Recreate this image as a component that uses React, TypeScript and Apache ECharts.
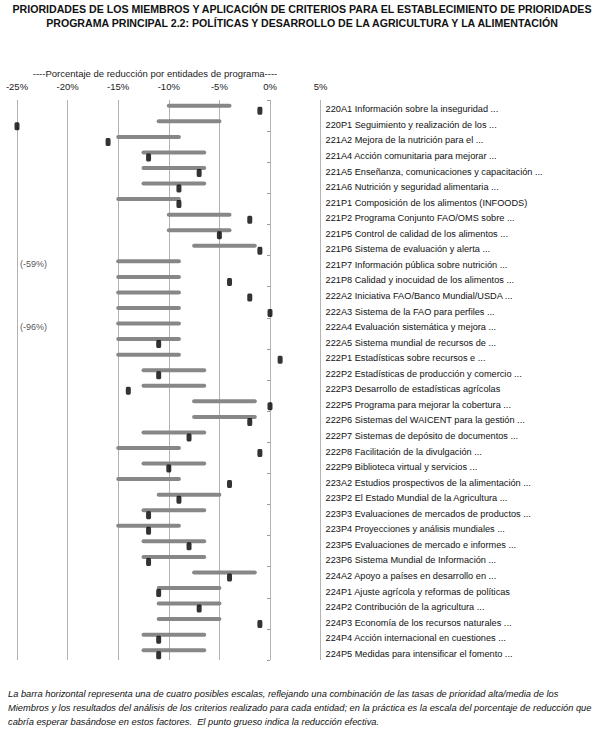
import React, { useEffect, useRef } from "react";
import * as echarts from "echarts";

const categories = [
  "220A1 Información sobre la inseguridad ...",
  "220P1 Seguimiento y realización de los ...",
  "221A2 Mejora de la nutrición para el ...",
  "221A4 Acción comunitaria para mejorar ...",
  "221A5 Enseñanza, comunicaciones y capacitación ...",
  "221A6 Nutrición y seguridad alimentaria ...",
  "221P1 Composición de los alimentos (INFOODS)",
  "221P2 Programa Conjunto FAO/OMS sobre ...",
  "221P5 Control de calidad de los alimentos ...",
  "221P6 Sistema de evaluación y alerta ...",
  "221P7 Información pública sobre nutrición ...",
  "221P8 Calidad y inocuidad de los alimentos ...",
  "222A2 Iniciativa FAO/Banco Mundial/USDA ...",
  "222A3 Sistema de la FAO para perfiles ...",
  "222A4 Evaluación sistemática y mejora ...",
  "222A5 Sistema mundial de recursos de ...",
  "222P1 Estadísticas sobre recursos e ...",
  "222P2 Estadísticas de producción y comercio ...",
  "222P3 Desarrollo de estadísticas agrícolas",
  "222P5 Programa para mejorar la cobertura ...",
  "222P6 Sistemas del WAICENT para la gestión ...",
  "222P7 Sistemas de depósito de documentos ...",
  "222P8 Facilitación de la divulgación ...",
  "222P9 Biblioteca virtual y servicios ...",
  "223A2 Estudios prospectivos de la alimentación ...",
  "223P2 El Estado Mundial de la Agricultura ...",
  "223P3 Evaluaciones de mercados de productos ...",
  "223P4 Proyecciones y análisis mundiales ...",
  "223P5 Evaluaciones de mercado e informes ...",
  "223P6 Sistema Mundial de Información ...",
  "224A2 Apoyo a países en desarrollo en ...",
  "224P1 Ajuste agrícola y reformas de políticas",
  "224P2 Contribución de la agricultura ...",
  "224P3 Economía de los recursos naturales ...",
  "224P4 Acción internacional en cuestiones ...",
  "224P5 Medidas para intensificar el fomento ...",
];

// expected reduction range (low / high), %
const rangeLow = [
  -10, -11, -15, -12.5, -12.5, -12.5, -15, -10, -10, -7.5,
  -15, -15, -15, -15, -15, -15, -15, -12.5, -12.5, -7.5,
  -7.5, -12.5, -15, -12.5, -15, -11, -12.5, -15, -12.5, -12.5,
  -7.5, -11, -11, -11, -12.5, -12.5,
];
const rangeHigh = [
  -4, -5, -9, -6.5, -6.5, -6.5, -9, -4, -4, -1.5,
  -9, -9, -9, -9, -9, -9, -9, -6.5, -6.5, -1.5,
  -1.5, -6.5, -9, -6.5, -9, -5, -6.5, -9, -6.5, -6.5,
  -1.5, -5, -5, -5, -6.5, -6.5,
];
// actual reduction, %
const actualReduction = [
  -1, -25, -16, -12, -7, -9, -9, -2, -5, -1,
  -59, -4, -2, 0, -96, -11, 1, -11, -14, 0,
  -2, -8, -1, -10, -4, -9, -12, -12, -8, -12,
  -4, -11, -7, -1, -11, -11,
];

const xTicks = { min: -25, max: 5, interval: 5 };

const titleLines = [
  "PRIORIDADES DE LOS MIEMBROS Y APLICACIÓN DE CRITERIOS PARA EL ESTABLECIMIENTO DE PRIORIDADES",
  "PROGRAMA PRINCIPAL 2.2: POLÍTICAS Y DESARROLLO DE LA AGRICULTURA Y LA ALIMENTACIÓN",
];
const axisTitle = "----Porcentaje de reducción por entidades de programa----";
const noteLines = [
  "La barra horizontal representa una de cuatro posibles escalas, reflejando una combinación de las tasas de prioridad alta/media de los",
  "Miembros y los resultados del análisis de los criterios realizado para cada entidad; en la práctica es la escala del porcentaje de reducción que",
  "cabría esperar basándose en estos factores.  El punto grueso indica la reducción efectiva.",
];

const FONT = "'Liberation Sans', Arial, sans-serif";

export default function App() {
  const ref = useRef<HTMLDivElement>(null);
  useEffect(() => {
    if (!ref.current) return;
    const chart = echarts.init(ref.current, undefined, { renderer: "svg" });
    const idx = categories.map((_, i) => i);
    const barData = idx.map((i) => [i, rangeLow[i], rangeHigh[i]]);
    const dotData = idx
      .filter((i) => actualReduction[i] >= xTicks.min)
      .map((i) => [actualReduction[i], i]);
    const offData = idx
      .filter((i) => actualReduction[i] < xTicks.min)
      .map((i) => ({ value: [xTicks.min, i], real: actualReduction[i] }));

    const option: any = {
      animation: false,
      backgroundColor: "#ffffff",
      textStyle: { fontFamily: FONT },
      grid: [
        { left: 17, top: 100, width: 303.6, height: 560 },
        { left: 270, top: 100, width: 1, height: 560 },
        { left: 17, top: 101.5, width: 303.6, height: 560 },
      ],
      xAxis: [
        {
          gridIndex: 0,
          type: "value",
          position: "top",
          min: xTicks.min,
          max: xTicks.max,
          interval: xTicks.interval,
          axisLine: { show: false },
          axisTick: { show: false },
          axisLabel: {
            formatter: (v: number) => `${v}%`,
            fontSize: 9.5,
            color: "#222",
            margin: 9,
            fontFamily: FONT,
          },
          splitLine: { show: true, lineStyle: { color: "#b3b3b3", width: 1 } },
        },
        { gridIndex: 1, type: "value", show: false, min: 0, max: 1 },
        { gridIndex: 2, type: "value", show: false, min: 0, max: 1 },
      ],
      yAxis: [
        {
          gridIndex: 0,
          type: "category",
          data: categories,
          inverse: true,
          axisLine: { show: false },
          axisTick: { show: false },
          axisLabel: { show: false },
          splitLine: { show: false },
        },
        {
          gridIndex: 1,
          type: "category",
          data: categories,
          inverse: true,
          position: "left",
          axisLine: { show: false },
          axisTick: { show: true, length: 3, lineStyle: { color: "#9a9a9a" } },
          axisLabel: { show: false },
        },
        {
          gridIndex: 2,
          type: "category",
          data: categories,
          inverse: true,
          position: "right",
          axisLine: { show: false },
          axisTick: { show: false },
          axisLabel: {
            show: true,
            margin: 5,
            fontSize: 9.2,
            color: "#111",
            fontFamily: FONT,
            interval: 0,
          },
        },
      ],
      series: [
        {
          type: "custom",
          xAxisIndex: 0,
          yAxisIndex: 0,
          data: barData,
          encode: { x: [1, 2], y: 0 },
          renderItem: (_params: any, api: any) => {
            const c = api.value(0);
            const p1 = api.coord([api.value(1), c]);
            const p2 = api.coord([api.value(2), c]);
            return {
              type: "line",
              shape: { x1: p1[0], y1: p1[1] - 2, x2: p2[0], y2: p2[1] - 2 },
              style: { stroke: "#878787", lineWidth: 4, lineCap: "round" },
            };
          },
          z: 2,
        },
        {
          type: "scatter",
          xAxisIndex: 0,
          yAxisIndex: 0,
          data: dotData,
          symbol: "roundRect",
          symbolSize: [5, 8],
          symbolOffset: [0, 3],
          itemStyle: { color: "#000" },
          clip: false,
          z: 3,
        },
        {
          type: "scatter",
          xAxisIndex: 0,
          yAxisIndex: 0,
          data: offData,
          symbolSize: 0,
          clip: false,
          label: {
            show: true,
            position: "right",
            distance: 3,
            offset: [0, 1],
            fontSize: 9,
            color: "#222",
            fontFamily: FONT,
            formatter: (p: any) => `(${p.data.real}%)`,
          },
        },
      ],
      graphic: [
        ...titleLines.map((t, i) => ({
          type: "text",
          x: 302,
          y: 9 + i * 14,
          style: {
            text: t,
            fill: "#111",
            font: `bold 10.6px ${FONT}`,
            textAlign: "center",
            textVerticalAlign: "middle",
          },
        })),
        {
          type: "text",
          x: 155,
          y: 73,
          style: {
            text: axisTitle,
            fill: "#222",
            font: `9.5px ${FONT}`,
            textAlign: "center",
            textVerticalAlign: "middle",
          },
        },
        ...noteLines.map((t, i) => ({
          type: "text",
          x: 8,
          y: 694 + i * 13.8,
          style: {
            text: t,
            fill: "#111",
            font: `italic 9.3px ${FONT}`,
            textAlign: "left",
            textVerticalAlign: "middle",
          },
        })),
      ],
    };
    chart.setOption(option);
    return () => chart.dispose();
  }, []);
  return (
    <div
      ref={ref}
      style={{ position: "fixed", left: 0, top: 0, width: 604, height: 753, background: "#fff" }}
    />
  );
}
